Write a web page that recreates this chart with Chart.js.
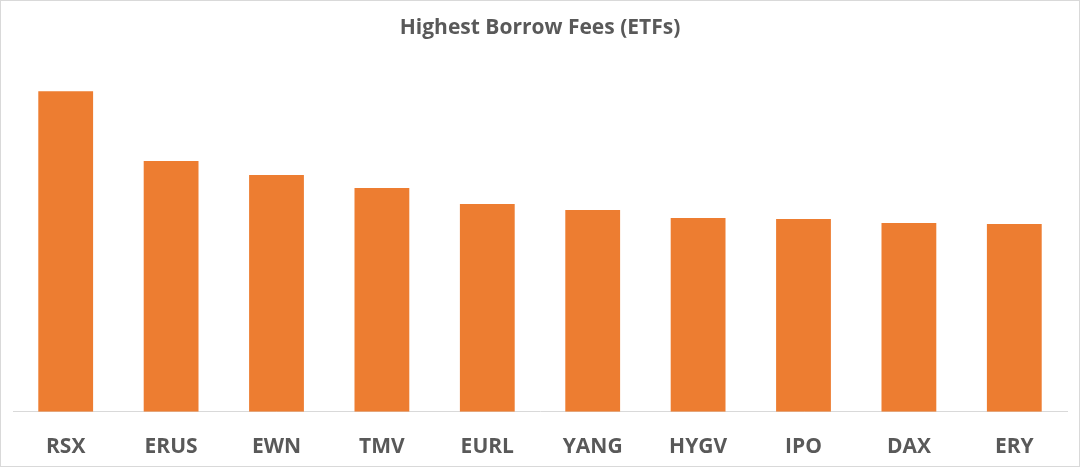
<!DOCTYPE html>
<html>
<head>
<meta charset="utf-8">
<script src="https://cdn.jsdelivr.net/npm/chart.js@4"></script>
<style>
  body { margin: 0; background: #fff; }
  #wrap { width: 1080px; height: 467px; box-sizing: border-box; border: 1px solid #d9d9d9; }
</style>
</head>
<body>
<div id="wrap"><canvas id="myChart" width="1078" height="465"></canvas></div>
<script>
const categories = ['RSX', 'ERUS', 'EWN', 'TMV', 'EURL', 'YANG', 'HYGV', 'IPO', 'DAX', 'ERY']
const fees = [32.1, 25.1, 23.7, 22.4, 20.8, 20.2, 19.4, 19.3, 18.9, 18.8]

const ctx = document.getElementById('myChart').getContext('2d')

new Chart(ctx, {
    type: 'bar',
    data: {
        labels: categories,
        datasets: [{
            label: 'Borrow fee',
            data: fees,
            backgroundColor: '#ed7d31',
            borderWidth: 0,
            barPercentage: 0.52,
            categoryPercentage: 1
        }]
    },
    options: {
        responsive: false,
        animation: false,
        layout: { padding: { left: 12, right: 12, top: 0, bottom: -17 } },
        plugins: {
            legend: { display: false },
            tooltip: { enabled: false },
            title: {
                display: true,
                text: 'Highest Borrow Fees (ETFs)',
                color: '#595959',
                font: { family: 'Open Sans', size: 21, weight: 'bold' },
                padding: { top: 14, bottom: 22 }
            }
        },
        scales: {
            x: {
                grid: { display: false, drawTicks: false },
                border: { display: true, color: '#d9d9d9', width: 1 },
                ticks: {
                    color: '#595959',
                    padding: 23,
                    font: { family: 'Open Sans', size: 21, weight: 'bold' }
                }
            },
            y: {
                display: false,
                min: 0,
                max: 35
            }
        }
    }
})
</script>
</body>
</html>
